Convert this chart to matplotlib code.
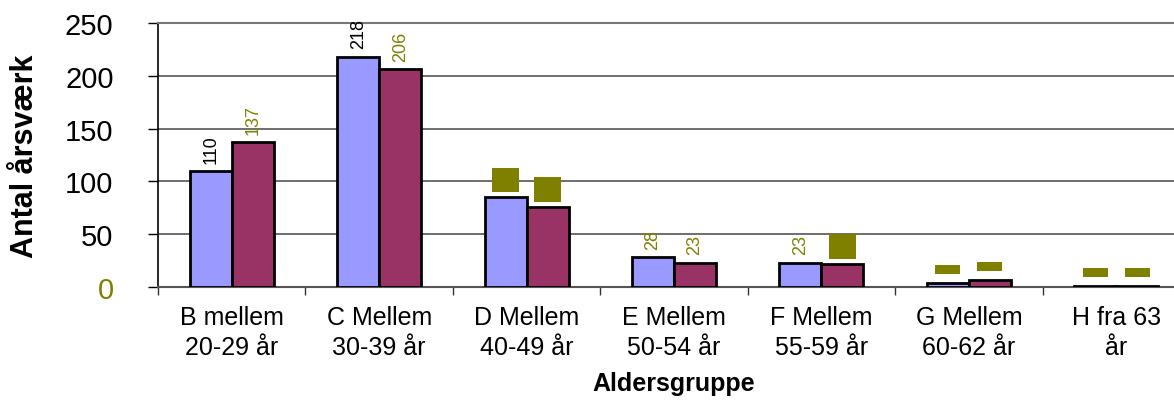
import numpy as np
import matplotlib
matplotlib.use("Agg")
import matplotlib.pyplot as plt

plt.rcParams['font.family'] = ['Liberation Sans', 'DejaVu Sans']

categories = ["B mellem\n20-29 år", "C Mellem\n30-39 år", "D Mellem\n40-49 år",
              "E Mellem\n50-54 år", "F Mellem\n55-59 år", "G Mellem\n60-62 år",
              "H fra 63\når"]
serie1 = [110, 218, 85, 28, 23, 4, 1]
serie2 = [137, 206, 76, 23, 22, 7, 1]
# how each data label came out in the original export
lbl1 = ['black', 'black', 'box', 'olive', 'olive', 'boxs', 'boxs']
lbl2 = ['olive', 'olive', 'box', 'olive', 'box', 'boxs', 'boxs']

blue = '#9999FF'
plum = '#993366'
olive = '#808000'

fig = plt.figure(figsize=(11.74, 4.02), dpi=100)
ax = fig.add_axes([158/1174, 114/402, 1032/1174, 264/402])

x = np.arange(len(categories))
w = 0.285
ax.bar(x - w/2, serie1, w, color=blue, edgecolor='black', linewidth=2, zorder=3)
ax.bar(x + w/2, serie2, w, color=plum, edgecolor='black', linewidth=2, zorder=3)


def put_label(xp, v, style):
    if style in ('black', 'olive'):
        ax.annotate(str(v), (xp, v), xytext=(0, 6), textcoords='offset points',
                    rotation=90, ha='center', va='bottom', fontsize=13,
                    color='black' if style == 'black' else olive)
    elif style == 'box':
        ax.annotate(str(v), (xp, v), xytext=(0, 8), textcoords='offset points',
                    ha='center', va='bottom', fontsize=9, color=olive,
                    bbox=dict(fc=olive, ec='none', boxstyle='square,pad=0.5'))
    else:
        ax.annotate(' ' * 8 + str(v) + ' ' * 8, (xp, v), xytext=(0, 8),
                    textcoords='offset points', ha='center', va='bottom',
                    fontsize=3, color=olive,
                    bbox=dict(fc=olive, ec='none', boxstyle='square,pad=0.6'))


for i in range(len(categories)):
    put_label(x[i] - w/2, serie1[i], lbl1[i])
    put_label(x[i] + w/2, serie2[i], lbl2[i])

ax.set_xlim(-0.5, len(categories) - 0.5)
ax.set_ylim(0, 250)
ax.set_yticks([0, 50, 100, 150, 200, 250])
ax.yaxis.grid(True, color='#555555', linewidth=1.2, zorder=0)
ax.set_xticks(x)
ax.set_xticklabels(categories, fontsize=18, linespacing=1.3)
ax.set_xticks(np.arange(len(categories) + 1) - 0.5, minor=True)
ax.tick_params(axis='x', which='major', length=0, pad=13)
ax.tick_params(axis='x', which='minor', length=6, width=1, color='#333333')
ax.tick_params(axis='y', length=7, width=1, labelsize=21, pad=25)
for t in ax.get_yticklabels():
    if t.get_text() == '0':
        t.set_color(olive)

ax.spines['right'].set_visible(False)
ax.spines['top'].set_color('#777777')
ax.spines['top'].set_linewidth(1.5)
ax.spines['left'].set_linewidth(1.2)
ax.spines['bottom'].set_color('#555555')
ax.spines['bottom'].set_linewidth(1.5)

ax.set_ylabel("Antal årsværk", fontsize=22, fontweight='bold', labelpad=18)
ax.set_xlabel("Aldersgruppe", fontsize=18, fontweight='bold', labelpad=9)

fig.savefig("out.png", dpi=100)
